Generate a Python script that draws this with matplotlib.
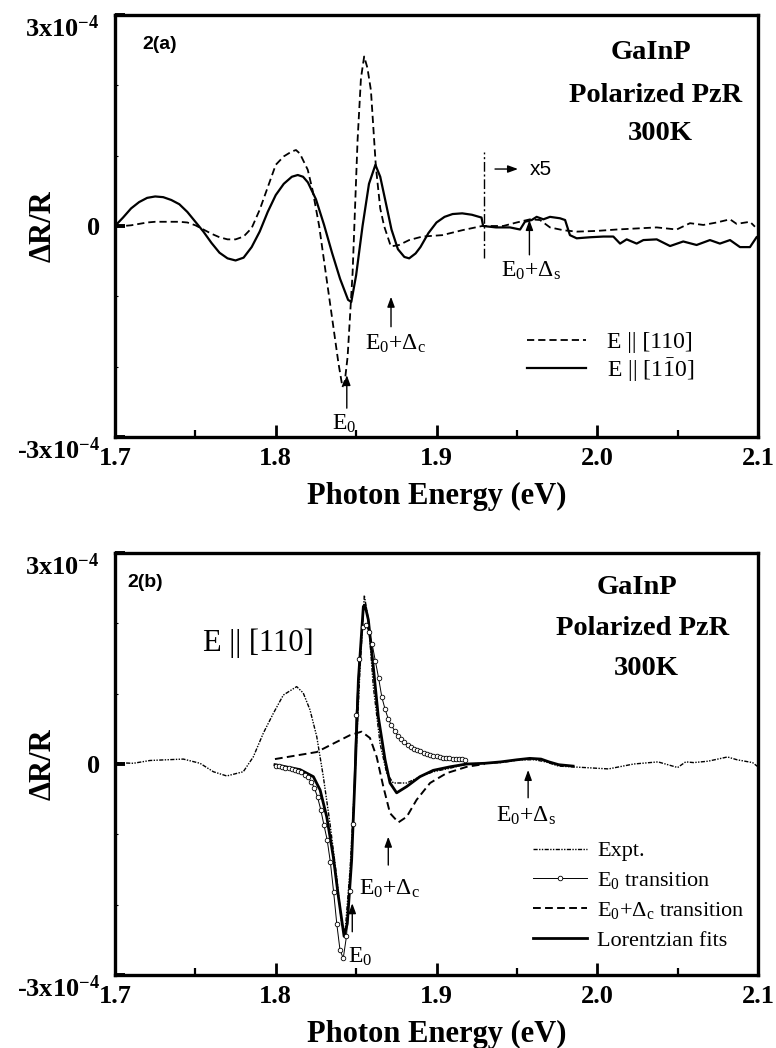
import matplotlib
matplotlib.use('Agg')
import matplotlib.pyplot as plt
from matplotlib.ticker import MultipleLocator, FixedLocator

plt.rcParams['font.family'] = ['Liberation Serif', 'DejaVu Serif']
plt.rcParams['mathtext.fontset'] = 'custom'
plt.rcParams['mathtext.rm'] = 'Liberation Serif'
plt.rcParams['mathtext.it'] = 'Liberation Serif:italic'
plt.rcParams['mathtext.bf'] = 'Liberation Serif:bold'

# ---------------- data (dR/R in units of 1e-4) ----------------
x_ticks = [1.7, 1.8, 1.9, 2.0, 2.1]
x_tick_labels = ['1.7', '1.8', '1.9', '2.0', '2.1']
y_ticks = [-3, 0, 3]
y_tick_labels = [r'-3x10$^{\mathbf{-4}}$', '0', r'3x10$^{\mathbf{-4}}$']

# Panel (a): E || [1-10] (solid), measured part
a_perp_E = [1.700, 1.705, 1.710, 1.715, 1.720, 1.725, 1.730, 1.735, 1.740, 1.745,
            1.750, 1.755, 1.760, 1.765, 1.770, 1.775, 1.780, 1.785, 1.790, 1.795,
            1.800, 1.805, 1.810, 1.8137, 1.817, 1.820, 1.825, 1.830, 1.835, 1.840,
            1.845, 1.847, 1.850, 1.854, 1.858, 1.862, 1.865, 1.868, 1.872, 1.876,
            1.880, 1.883, 1.887, 1.890, 1.895, 1.900, 1.905, 1.910, 1.916, 1.922, 1.928]
a_perp_V = [0.00, 0.12, 0.25, 0.34, 0.40, 0.42, 0.41, 0.37, 0.31, 0.20,
            0.06, -0.08, -0.24, -0.38, -0.46, -0.49, -0.45, -0.30, -0.08, 0.20,
            0.44, 0.60, 0.70, 0.725, 0.70, 0.62, 0.38, 0.02, -0.38, -0.75,
            -1.05, -1.08, -0.70, 0.00, 0.60, 0.87, 0.70, 0.38, -0.05, -0.33,
            -0.44, -0.46, -0.39, -0.30, -0.10, 0.05, 0.13, 0.17, 0.18, 0.16, 0.12]
# x5 magnified part (values as displayed)
a_perp_x5_E = [1.929, 1.937, 1.9457, 1.952, 1.955, 1.9592, 1.9623, 1.9665, 1.9706, 1.9768,
               1.980, 1.983, 1.9872, 1.9955, 2.0038, 2.010, 2.0142, 2.0183, 2.0245, 2.0287,
               2.037, 2.0453, 2.0535, 2.0618, 2.0701, 2.0763, 2.0826, 2.0888, 2.095, 2.0991]
a_perp_x5_V = [0.00, -0.02, -0.02, -0.05, 0.06, 0.085, 0.13, 0.095, 0.13, 0.11,
               0.085, -0.13, -0.175, -0.16, -0.15, -0.15, -0.25, -0.19, -0.25, -0.20,
               -0.19, -0.285, -0.22, -0.27, -0.20, -0.25, -0.20, -0.30, -0.30, -0.16]

# Panel (a): E || [110] (dashed)
a_par_E = [1.700, 1.705, 1.710, 1.715, 1.720, 1.725, 1.730, 1.735, 1.740, 1.745,
           1.750, 1.755, 1.760, 1.765, 1.770, 1.775, 1.780, 1.785, 1.790, 1.795,
           1.800, 1.805, 1.810, 1.8126, 1.815, 1.8199, 1.823, 1.827, 1.831, 1.8355,
           1.839, 1.8415, 1.843, 1.8447, 1.8478, 1.8509, 1.853, 1.855, 1.857, 1.8592,
           1.8623, 1.865, 1.8674, 1.8716, 1.8767, 1.883, 1.8912, 1.9036, 1.916, 1.9284]
a_par_V = [-0.01, 0.00, 0.01, 0.03, 0.05, 0.06, 0.06, 0.06, 0.06, 0.05,
           0.01, -0.05, -0.11, -0.16, -0.19, -0.19, -0.15, -0.03, 0.23, 0.55,
           0.87, 0.99, 1.06, 1.08, 1.03, 0.80, 0.50, 0.00, -0.65, -1.38,
           -1.95, -2.29, -2.20, -1.86, -0.67, 1.22, 2.10, 2.41, 2.25, 1.93,
           0.84, 0.25, 0.00, -0.29, -0.27, -0.20, -0.15, -0.13, -0.06, 0.00]
a_par_x5_E = [1.929, 1.9415, 1.9499, 1.9582, 1.9644, 1.9706, 1.9789, 1.9872, 1.9996, 2.0121,
              2.0245, 2.037, 2.0494, 2.0577, 2.066, 2.0743, 2.0826, 2.0867, 2.095, 2.0981]
a_par_x5_V = [0.00, 0.00, 0.05, 0.095, 0.085, -0.02, -0.06, -0.08, -0.07, -0.05,
              -0.035, -0.02, -0.05, 0.04, 0.015, 0.05, 0.095, 0.03, 0.06, -0.01]

# Panel (b): experiment, E || [110]
b_expt_E = [1.700, 1.7114, 1.7218, 1.7321, 1.7425, 1.7529, 1.7612, 1.7695, 1.7798, 1.786,
            1.7923, 1.7985, 1.8047, 1.813, 1.8171, 1.8213, 1.8255, 1.8296, 1.8337, 1.8379,
            1.841, 1.8431, 1.8462, 1.8493, 1.8524, 1.8551, 1.8576, 1.8607, 1.8649, 1.869,
            1.8731, 1.8815, 1.8897, 1.898, 1.9084, 1.9188, 1.930, 1.940, 1.952, 1.961,
            1.968, 1.976, 1.9918, 2.007, 2.0227, 2.0378, 2.050, 2.055, 2.060, 2.069,
            2.081, 2.087, 2.0966, 2.100]
b_expt_V = [0.02, 0.01, 0.05, 0.06, 0.07, 0.01, -0.11, -0.17, -0.11, 0.10,
            0.44, 0.72, 0.98, 1.10, 1.01, 0.77, 0.39, -0.18, -0.84, -1.60,
            -2.27, -2.40, -1.51, -0.18, 1.34, 2.40, 2.05, 1.10, 0.29, -0.13,
            -0.27, -0.27, -0.18, -0.11, -0.06, 0.00, 0.01, 0.02, 0.06, 0.06,
            0.03, -0.03, -0.05, -0.07, 0.00, 0.03, -0.05, 0.03, 0.02, 0.04,
            0.10, 0.06, 0.02, -0.04]

# Panel (b): E0 transition (sampled every 2 meV)
b_e0_E = [1.800, 1.802, 1.804, 1.806, 1.808, 1.810, 1.812, 1.814, 1.816, 1.818,
          1.820, 1.822, 1.824, 1.826, 1.828, 1.830, 1.832, 1.834, 1.836, 1.838,
          1.840, 1.842, 1.844, 1.846, 1.848, 1.850, 1.852, 1.854, 1.856, 1.858,
          1.860, 1.862, 1.864, 1.866, 1.868, 1.870, 1.872, 1.874, 1.876, 1.878,
          1.880, 1.882, 1.884, 1.886, 1.888, 1.890, 1.892, 1.894, 1.896, 1.898,
          1.900, 1.902, 1.904, 1.906, 1.908, 1.910, 1.912, 1.914, 1.916, 1.918]
b_e0_V = [-0.03, -0.035, -0.04, -0.05, -0.06, -0.07, -0.08, -0.10, -0.12, -0.15,
          -0.19, -0.25, -0.34, -0.47, -0.65, -0.87, -1.08, -1.40, -1.82, -2.28,
          -2.65, -2.76, -2.45, -1.80, -0.85, 0.70, 1.50, 1.95, 1.98, 1.88,
          1.70, 1.46, 1.22, 0.95, 0.78, 0.64, 0.55, 0.47, 0.40, 0.35,
          0.31, 0.27, 0.24, 0.22, 0.20, 0.18, 0.16, 0.145, 0.13, 0.12,
          0.11, 0.10, 0.09, 0.085, 0.08, 0.075, 0.07, 0.068, 0.065, 0.063]

# Panel (b): E0+Delta_c transition
b_ec_E = [1.7995, 1.8151, 1.8255, 1.8358, 1.8462, 1.8534, 1.8586, 1.8628, 1.8669, 1.8711,
          1.8763, 1.8815, 1.8876, 1.896, 1.9063, 1.9188, 1.930]
b_ec_V = [0.07, 0.13, 0.17, 0.29, 0.41, 0.46, 0.37, 0.10, -0.32, -0.70,
          -0.83, -0.75, -0.51, -0.27, -0.13, -0.04, 0.00]

# Panel (b): Lorentzian fits (sum)
b_fit_E = [1.7995, 1.8151, 1.8234, 1.8276, 1.8317, 1.8358, 1.839, 1.8425, 1.8445, 1.8472,
           1.8493, 1.8514, 1.8545, 1.8555, 1.8576, 1.8607, 1.8638, 1.868, 1.8711, 1.8752,
           1.8815, 1.8897, 1.898, 1.9084, 1.9188, 1.930, 1.940, 1.950, 1.958, 1.965,
           1.970, 1.976, 1.985]
b_fit_V = [-0.01, -0.08, -0.18, -0.37, -0.75, -1.32, -1.89, -2.45, -2.27, -1.37,
           -0.18, 1.19, 2.24, 2.26, 2.05, 1.38, 0.67, 0.06, -0.27, -0.41,
           -0.32, -0.18, -0.09, -0.04, 0.00, 0.01, 0.03, 0.06, 0.08, 0.07,
           0.03, -0.01, -0.03]

# ---------------- figure ----------------
W, H = 776, 1048
fig = plt.figure(figsize=(W / 100, H / 100), dpi=100)
axA = fig.add_axes([115 / W, 1 - 437 / H, 643 / W, 422 / H])
axB = fig.add_axes([115 / W, 1 - 975 / H, 643 / W, 422 / H])


def style(ax, tag, title_pos):
    ax.set_xlim(1.7, 2.1)
    ax.set_ylim(-3, 3)
    ax.set_xticks(x_ticks)
    ax.set_xticklabels(x_tick_labels, fontsize=19, fontweight='bold')
    ax.xaxis.set_minor_locator(MultipleLocator(0.05))
    ax.set_yticks(y_ticks)
    ax.set_yticklabels(y_tick_labels, fontsize=19, fontweight='bold')
    ax.yaxis.set_minor_locator(FixedLocator([-2, -1, 1, 2]))
    ax.tick_params(axis='x', which='major', direction='in', length=9, width=2, pad=7, top=False)
    ax.tick_params(axis='x', which='minor', direction='in', length=5, width=1.6, top=False)
    ax.tick_params(axis='y', which='major', direction='in', length=7, width=2.8, pad=11, right=False)
    ax.tick_params(axis='y', which='minor', direction='in', length=2.5, width=0.8, right=False)
    labs = ax.get_yticklabels()
    labs[0].set_verticalalignment('top')
    labs[2].set_verticalalignment('top')
    for s in ax.spines.values():
        s.set_linewidth(2.4)
    ax.set_xlabel('Photon Energy (eV)', fontsize=22, fontweight='bold', labelpad=9)
    ax.set_ylabel('ΔR/R', fontsize=22, fontweight='bold')
    ax.yaxis.set_label_coords(-0.090, 0.5)
    ax.text(tag[1], tag[2], tag[0], transform=ax.transAxes, ha='left', va='center',
            fontsize=14, fontweight='bold', family=['Liberation Sans', 'DejaVu Sans'])
    for txt, (tx, ty) in zip(['GaInP', 'Polarized PzR', '300K'], title_pos):
        ax.text(tx, ty, txt, transform=ax.transAxes, ha='center', va='center',
                fontsize=20.5, fontweight='bold')


arrow_kw = dict(arrowstyle='-|>,head_length=0.6,head_width=0.22', color='k', lw=1.0,
                shrinkA=0, shrinkB=0)

# ---- panel (a) ----
axA.plot(a_par_E + a_par_x5_E, a_par_V + a_par_x5_V, color='k', lw=1.3,
         linestyle=(0, (4, 2.2)), label='E || [110]')
axA.plot(a_perp_E + a_perp_x5_E, a_perp_V + a_perp_x5_V, color='k', lw=1.6,
         label=r'E || [1$\bar{1}$0]')
axA.vlines(1.9295, -0.455, 1.05, colors='k', lw=1.0, linestyles=(0, (7, 2, 1.5, 2)))
axA.annotate('', xy=(1.9507, 0.81), xytext=(1.9364, 0.81), arrowprops=arrow_kw)
axA.text(1.9582, 0.81, 'x5', ha='left', va='center', fontsize=15,
         family=['Liberation Sans', 'DejaVu Sans'])
axA.annotate('', xy=(1.8442, -2.12), xytext=(1.8442, -2.59), arrowprops=arrow_kw)
axA.text(1.8427, -2.90, r'E$_0$', ha='center', va='baseline', fontsize=17)
axA.annotate('', xy=(1.8717, -1.006), xytext=(1.8717, -1.432), arrowprops=arrow_kw)
axA.text(1.8742, -1.764, r'E$_0$+Δ$_\mathrm{c}$', ha='center', va='baseline', fontsize=17)
axA.annotate('', xy=(1.9578, 0.085), xytext=(1.9578, -0.41), arrowprops=arrow_kw)
axA.text(1.9588, -0.72, r'E$_0$+Δ$_\mathrm{s}$', ha='center', va='baseline', fontsize=17)
axA.legend(loc='upper left', bbox_to_anchor=(0.6407, 0.249), frameon=False,
           prop={'size': 17}, handlelength=2.5, handletextpad=0.9, labelspacing=0.1,
           borderpad=0, borderaxespad=0)
style(axA, ('2(a)', 0.042, 0.931), [(0.834, 0.912), (0.840, 0.810), (0.848, 0.720)])

# ---- panel (b) ----
axB.plot(b_expt_E, b_expt_V, color='k', lw=1.0, linestyle=(0, (3, 1, 1, 1, 1, 1)),
         label='Expt.', zorder=2)
axB.plot(b_e0_E, b_e0_V, color='k', lw=0.7, marker='o', markersize=3.3,
         markerfacecolor='white', markeredgecolor='k', markeredgewidth=0.6,
         label=r'E$_0$ transition', zorder=4)
axB.plot(b_ec_E, b_ec_V, color='k', lw=1.4, linestyle=(0, (4, 2.2)),
         label=r'E$_0$+Δ$_\mathrm{c}$ transition', zorder=3)
axB.plot(b_fit_E, b_fit_V, color='k', lw=2.0, label='Lorentzian fits', zorder=3)
axB.text(1.789, 1.60, 'E || [110]', ha='center', va='baseline', fontsize=22)
axB.annotate('', xy=(1.8476, -1.98), xytext=(1.8476, -2.385), arrowprops=arrow_kw)
axB.text(1.845, -2.83, r'E$_0$', ha='left', va='baseline', fontsize=17)
axB.annotate('', xy=(1.870, -1.034), xytext=(1.870, -1.437), arrowprops=arrow_kw)
axB.text(1.8705, -1.86, r'E$_0$+Δ$_\mathrm{c}$', ha='center', va='baseline', fontsize=17)
axB.annotate('', xy=(1.957, -0.085), xytext=(1.957, -0.48), arrowprops=arrow_kw)
axB.text(1.9557, -0.825, r'E$_0$+Δ$_\mathrm{s}$', ha='center', va='baseline', fontsize=17)
axB.legend(loc='upper left', bbox_to_anchor=(0.650, 0.318), frameon=False,
           prop={'size': 16}, handlelength=2.45, handletextpad=0.45, labelspacing=0.4,
           borderpad=0, borderaxespad=0)
style(axB, ('2(b)', 0.020, 0.931), [(0.812, 0.919), (0.820, 0.820), (0.827, 0.727)])

fig.savefig('out.png', dpi=100)
